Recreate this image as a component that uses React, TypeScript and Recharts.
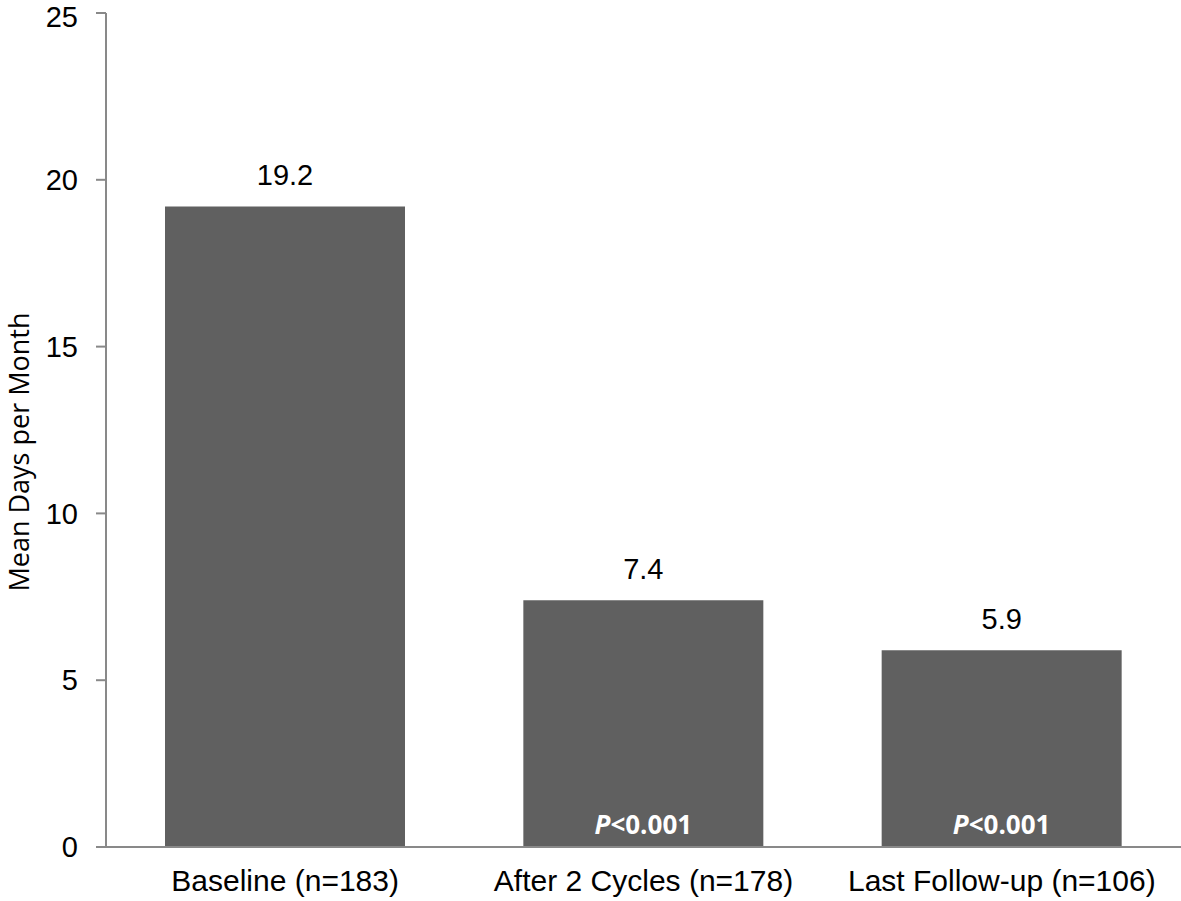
import { Bar, BarChart, LabelList, XAxis, YAxis } from "recharts";

const categories: string[] = [
  "Baseline (n=183)",
  "After 2 Cycles (n=178)",
  "Last Follow-up (n=106)",
];
const meanDays: number[] = [19.2, 7.4, 5.9];
const pValues: string[] = ["", "<0.001", "<0.001"];
const yTicks: number[] = [0, 5, 10, 15, 20, 25];

const data = categories.map((name, i) => ({
  name,
  value: meanDays[i],
  p: pValues[i],
}));

const AXIS = "#898989";
const BAR = "#606060";
const TICK_FONT = "Arial, 'Liberation Sans', sans-serif";
const LABEL_FONT = "'Open Sans', sans-serif";

// white P-value text near the bottom of the bar
function PLabel(props: any) {
  const { x, y, width, height, value } = props;
  if (!value) return null;
  const cx = Number(x) + Number(width) / 2;
  const by = Number(y) + Number(height) - 13;
  return (
    <text
      x={cx}
      y={by}
      textAnchor="middle"
      fill="#fff"
      fontFamily={LABEL_FONT}
      fontWeight={700}
      fontSize={26}
    >
      <tspan fontStyle="italic">P</tspan>
      {value}
    </text>
  );
}

export default function App() {
  return (
    <div style={{ position: "absolute", left: 0, top: 0, background: "#fff" }}>
      <BarChart
        width={1181}
        height={901}
        data={data}
        margin={{ top: 13, right: 0, bottom: 0, left: 0 }}
      >
        <XAxis
          dataKey="name"
          height={54}
          stroke={AXIS}
          strokeWidth={2}
          tickLine={false}
          tickMargin={17}
          tick={{ fill: "#000", fontSize: 30, fontFamily: TICK_FONT }}
        />
        <YAxis
          width={106}
          domain={[0, 25]}
          ticks={yTicks}
          stroke={AXIS}
          strokeWidth={2}
          tickSize={10}
          tickMargin={18}
          tick={{ fill: "#000", fontSize: 29, fontFamily: TICK_FONT }}
          label={{
            content: () => (
              <text
                x={29}
                y={452}
                transform="rotate(-90 29 452)"
                textAnchor="middle"
                fill="#000"
                fontFamily={LABEL_FONT}
                fontSize={27}
              >
                Mean Days per Month
              </text>
            ),
          }}
        />
        <Bar dataKey="value" fill={BAR} barSize={240} isAnimationActive={false}>
          <LabelList
            dataKey="value"
            position="top"
            offset={21}
            fill="#000"
            fontSize={29}
            fontFamily={TICK_FONT}
            formatter={(v: any) => Number(v).toFixed(1)}
          />
          <LabelList dataKey="p" content={PLabel} />
        </Bar>
      </BarChart>
    </div>
  );
}
